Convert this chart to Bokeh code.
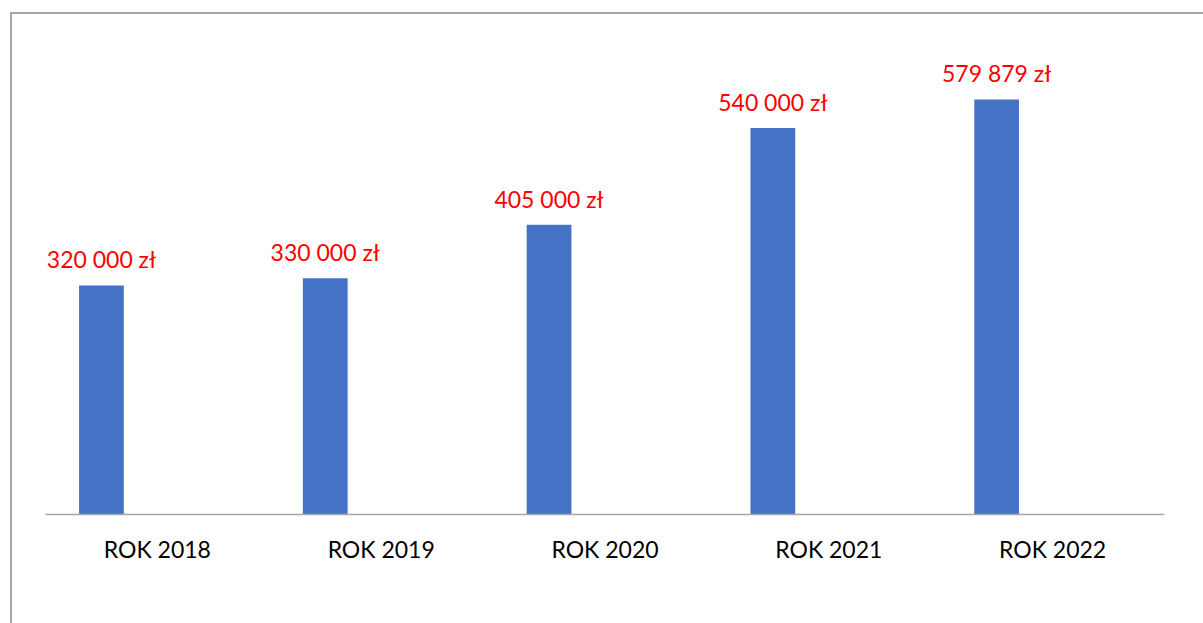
from bokeh.plotting import figure
from bokeh.models import FactorRange, Range1d, ColumnDataSource
from bokeh.transform import dodge
from bokeh.embed import file_html
from bokeh.resources import INLINE
from bokeh.core.properties import value

categories = ["ROK 2018", "ROK 2019", "ROK 2020", "ROK 2021", "ROK 2022"]
values = [320000, 330000, 405000, 540000, 579879]
labels = ["320 000 zł", "330 000 zł", "405 000 zł", "540 000 zł", "579 879 zł"]

src = ColumnDataSource(dict(cat=categories, val=values, lab=labels))

p = figure(width=1203, height=623,
           x_range=FactorRange(*categories, range_padding=0),
           y_range=Range1d(0, 662300),
           y_axis_location=None,
           output_backend="svg", toolbar_location=None,
           min_border_left=45, min_border_right=39,
           min_border_top=40, min_border_bottom=109)

xpos = dodge("cat", -0.25, range=p.x_range)
p.vbar(x=xpos, top="val", width=0.2, source=src, color="#4472C4", line_color=None)
p.text(x=xpos, y="val", text="lab", source=src, text_align="center",
       text_baseline="alphabetic", y_offset=-26, text_color="#FF0000",
       text_font=value("Lato"), text_font_size="23px")

p.xgrid.grid_line_color = None
p.ygrid.grid_line_color = None
p.outline_line_color = None
p.background_fill_color = None
p.border_fill_color = None
p.xaxis.axis_line_color = "#A6A6A6"
p.xaxis.axis_line_width = 1.5
p.xaxis.major_tick_line_color = None
p.xaxis.minor_tick_line_color = None
p.xaxis.major_label_text_font = "Lato"
p.xaxis.major_label_text_font_size = "23px"
p.xaxis.major_label_text_color = "#000000"
p.xaxis.major_label_standoff = 14

p.styles = {
    "background": ("linear-gradient(#A6A6A6, #A6A6A6) 10px 12px / 2px 100% no-repeat, "
                   "linear-gradient(#A6A6A6, #A6A6A6) 10px 12px / 100% 2px no-repeat, "
                   "#FFFFFF")
}

open("out.html", "w").write(file_html(p, INLINE))
